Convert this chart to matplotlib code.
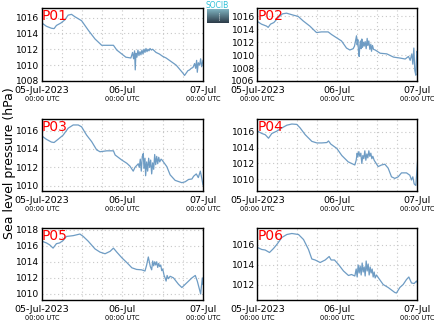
import numpy as np
import matplotlib
matplotlib.use("Agg")
import matplotlib.pyplot as plt
from matplotlib.transforms import blended_transform_factory
from matplotlib.colors import LinearSegmentedColormap

# hours since 05-Jul-2023 00:00 UTC, sea level pressure (hPa)
p01_t = [0, 1.3, 2.8, 3.6, 4.3, 5.6, 6.8, 7.8, 8.8, 9.8, 11.8, 13.8, 15.8, 17.8, 19.3,
         21.3, 22.3, 23.8, 25.0, 26.5, 27.0, 27.3, 27.6, 27.8, 28.0, 28.3, 28.6, 28.9,
         29.2, 29.5, 29.8, 30.1, 30.4, 30.7, 31.0, 31.3, 31.6, 31.9, 32.2, 32.6, 33.0,
         34, 35, 36, 37, 38, 39, 40, 41, 42, 42.5, 43, 43.5, 44, 44.5, 45, 45.5, 45.8,
         46.1, 46.3, 46.6, 47, 47.3, 47.6, 48]
p01_p = [1015.3, 1014.9, 1014.65, 1014.6, 1015.0, 1015.3, 1015.7, 1016.3, 1016.4, 1016.1,
         1015.6, 1014.4, 1013.3, 1012.5, 1012.5, 1012.5, 1011.9, 1011.4, 1011.0, 1010.9,
         1011.6, 1010.8, 1011.8, 1009.4, 1011.5, 1011.0, 1011.9, 1011.2, 1011.7, 1011.3,
         1011.9, 1011.4, 1012.0, 1011.6, 1012.1, 1011.7, 1012.0, 1011.8, 1012.1, 1011.9,
         1012.0, 1011.6, 1011.4, 1011.1, 1010.9, 1010.6, 1010.3, 1010.0, 1009.5, 1009.0,
         1008.7, 1009.0, 1009.3, 1009.4, 1009.6, 1009.7, 1010.2, 1009.6, 1010.6, 1009.1,
         1010.3, 1010.0, 1010.8, 1009.8, 1010.6]

p02_t = [0, 1.2, 2.7, 3.2, 3.9, 4.9, 6.2, 7.5, 8.7, 10.7, 12.2, 13.7, 15.7, 17.7, 19.2,
         21.2, 22.2, 23.7, 25.2, 26.7, 27.7, 28.7, 29.1, 29.4, 29.7, 29.9, 30.1, 30.3,
         30.5, 30.7, 30.9, 31.1, 31.3, 31.5, 31.8, 32.0, 32.3, 32.6, 32.9, 33.1, 33.4,
         33.7, 34.0, 34.2, 34.5, 34.8, 35.3, 36.8, 38.8, 40.8, 42.8, 44.3, 45.3, 45.8,
         46.3, 46.6, 46.9, 47.2, 47.5, 47.8, 48]
p02_p = [1015.2, 1014.8, 1014.5, 1014.3, 1014.8, 1015.05, 1015.8, 1016.4, 1016.5, 1016.2,
         1016.0, 1015.3, 1014.5, 1013.5, 1013.6, 1013.6, 1013.2, 1012.7, 1012.2, 1011.1,
         1010.8, 1011.0, 1011.4, 1012.2, 1013.0, 1011.6, 1012.4, 1010.6, 1009.8, 1011.5,
         1012.2, 1011.0, 1012.5, 1011.2, 1012.0, 1011.4, 1012.1, 1011.0, 1012.6, 1011.5,
         1012.2, 1010.9, 1011.7, 1010.6, 1011.5, 1010.9, 1010.8, 1010.3, 1010.2, 1009.7,
         1009.55, 1009.4, 1009.8, 1009.2, 1010.2, 1008.6, 1011.1, 1007.6, 1006.9, 1010.6,
         1010.4]

p03_t = [0, 1.3, 2.8, 3.6, 4.8, 6.3, 7.8, 9.3, 10.8, 11.8, 13.3, 14.8, 16.3, 17.3, 19.3,
         21.3, 21.8, 23.8, 25.3, 26.2, 27.2, 27.7, 28.7, 29.0, 29.3, 29.6, 29.9, 30.2,
         30.4, 30.7, 30.9, 31.2, 31.5, 31.8, 32.1, 32.4, 32.7, 33.0, 33.3, 33.6, 33.9,
         34.2, 34.5, 34.8, 35.1, 35.5, 35.8, 37.2, 38.2, 39.7, 41.7, 42.7, 43.7, 44.7,
         45.2, 46.0, 46.6, 47.2, 47.6, 48]
p03_p = [1015.4, 1015.05, 1014.75, 1014.7, 1015.05, 1015.5, 1016.25, 1016.6, 1016.6,
         1016.4, 1015.5, 1014.8, 1013.9, 1013.7, 1013.8, 1013.8, 1013.35, 1012.8, 1012.45,
         1012.15, 1011.6, 1012.0, 1012.4, 1012.0, 1012.9, 1011.6, 1013.2, 1013.5, 1011.9,
         1013.0, 1011.1, 1012.6, 1011.6, 1013.0, 1012.0, 1012.8, 1011.3, 1012.5, 1011.8,
         1013.4, 1012.3, 1013.2, 1012.4, 1013.1, 1012.6, 1012.9, 1012.8, 1012.1, 1011.2,
         1010.6, 1010.35, 1010.45, 1010.7, 1010.75, 1011.05, 1011.3, 1010.9, 1011.6,
         1010.9, 1010.1]

p04_t = [0, 1.3, 2.3, 3.3, 4.3, 5.8, 7.3, 8.8, 10.3, 11.8, 12.8, 14.3, 16.3, 17.8, 19.3,
         20.8, 21.3, 22.0, 23.8, 25.3, 27.2, 28.2, 29.2, 29.6, 29.9, 30.1, 30.4, 30.7,
         31.0, 31.3, 31.6, 31.9, 32.2, 32.5, 32.8, 33.1, 33.4, 33.7, 34.0, 34.3, 34.6,
         35.0, 35.3, 36.2, 37.2, 38.2, 39.2, 40.2, 41.2, 42.2, 43.2, 44.7, 45.7, 46.2,
         46.6, 47.0, 47.5, 48]
p04_p = [1016.1, 1015.8, 1015.65, 1015.2, 1015.8, 1016.1, 1016.5, 1016.85, 1017.0, 1016.95,
         1016.5, 1015.65, 1014.8, 1014.6, 1014.6, 1014.65, 1014.85, 1014.45, 1013.9,
         1013.0, 1012.2, 1012.0, 1011.8, 1012.4, 1013.3, 1012.8, 1013.5, 1012.9, 1013.3,
         1012.0, 1013.0, 1012.6, 1013.6, 1012.4, 1013.2, 1012.7, 1013.6, 1012.9, 1013.3,
         1012.6, 1012.9, 1012.4, 1012.2, 1011.6, 1011.8, 1011.9, 1011.4, 1010.3, 1010.1,
         1010.3, 1010.8, 1010.8, 1010.5, 1009.9, 1010.3, 1009.4, 1009.2, 1012.2]

p05_t = [0, 1.3, 2.3, 3.3, 4.3, 5.3, 6.3, 7.3, 9.3, 11.3, 12.3, 13.8, 15.8, 17.3, 18.8,
         20.3, 21.3, 22.3, 23.8, 25.3, 26.8, 28.2, 29.7, 30.7, 31.2, 31.7, 32.0, 32.3,
         32.7, 33.0, 33.3, 33.6, 33.9, 34.2, 34.5, 34.8, 35.1, 35.4, 35.7, 36.0, 36.4,
         36.7, 37.0, 37.3, 37.7, 38.2, 39.2, 40.7, 41.7, 43.2, 44.7, 45.7, 46.3, 47.3,
         47.8, 48]
p05_p = [1016.55, 1016.35, 1016.1, 1015.7, 1016.25, 1016.35, 1016.65, 1017.15, 1017.25,
         1017.45, 1017.15, 1016.55, 1015.6, 1015.2, 1015.0, 1015.3, 1015.7, 1015.2, 1014.5,
         1013.9, 1013.25, 1013.05, 1013.0, 1012.85, 1013.6, 1014.6, 1014.0, 1013.4, 1013.0,
         1014.1, 1013.5, 1014.0, 1013.6, 1014.0, 1013.3, 1013.8, 1013.4, 1013.6, 1012.9,
         1013.1, 1012.3, 1012.0, 1011.6, 1012.3, 1011.9, 1012.2, 1012.0, 1011.2, 1010.8,
         1011.4, 1012.0, 1012.3, 1011.6, 1010.0, 1012.0, 1011.2]

p06_t = [0, 1.3, 2.3, 3.6, 4.8, 5.8, 7.3, 8.8, 10.3, 12.3, 13.8, 15.3, 16.3, 17.3, 18.8,
         20.3, 21.5, 22.1, 23.1, 24.3, 25.8, 27.3, 28.2, 29.2, 29.6, 29.9, 30.2, 30.5,
         30.8, 31.1, 31.4, 31.7, 32.0, 32.3, 32.6, 32.9, 33.2, 33.5, 33.8, 34.1, 34.4,
         34.7, 35.0, 35.3, 35.7, 36.2, 37.7, 39.2, 41.2, 41.7, 42.7, 43.7, 44.7, 45.4,
         46.2, 47.0, 47.7, 48]
p06_p = [1015.75, 1015.55, 1015.5, 1015.25, 1015.65, 1016.05, 1016.75, 1017.05, 1017.15,
         1017.05, 1016.55, 1015.55, 1014.6, 1014.5, 1014.25, 1014.5, 1014.85, 1014.5,
         1014.5, 1014.05, 1013.4, 1012.95, 1013.05, 1012.9, 1013.6, 1012.8, 1014.0, 1013.2,
         1013.9, 1013.0, 1014.2, 1013.3, 1013.8, 1012.9, 1014.4, 1013.4, 1014.1, 1013.0,
         1013.8, 1013.2, 1013.6, 1012.8, 1013.3, 1012.7, 1013.0, 1012.75, 1012.05, 1011.75,
         1011.25, 1011.2, 1011.75, 1012.05, 1012.55, 1012.8, 1012.2, 1012.15, 1012.4, 1012.2]

stations = ["P01", "P02", "P03", "P04", "P05", "P06"]
series = [(p01_t, p01_p), (p02_t, p02_p), (p03_t, p03_p),
          (p04_t, p04_p), (p05_t, p05_p), (p06_t, p06_p)]
ylims = [(1008, 1017.2), (1006, 1017.3), (1009.45, 1017.3),
         (1008.5, 1017.7), (1009.25, 1018.2), (1010.5, 1017.7)]
xtick_hours = [0, 24, 48]
xtick_main = ["05-Jul-2023", "06-Jul", "07-Jul"]
xtick_sub = "00:00 UTC"

W, H = 435, 327
fig = plt.figure(figsize=(W / 100, H / 100), dpi=100)
fig.patch.set_facecolor("white")

# axes boxes in pixels: (left, right) per column, (top, bottom) per row
cols = [(42, 203), (257.5, 417.5)]
rows = [(8, 81), (118.5, 191), (228, 300)]

line_color = "#6e9cc4"

for i, (name, (t, p), yl) in enumerate(zip(stations, series, ylims)):
    x0, x1 = cols[i % 2]
    y0, y1 = rows[i // 2]
    ax = fig.add_axes([x0 / W, 1 - y1 / H, (x1 - x0) / W, (y1 - y0) / H])
    ax.plot(t, p, color=line_color, lw=0.9)
    ax.set_xlim(0, 48)
    ax.set_ylim(*yl)
    ax.set_xticks(np.arange(0, 49, 6))
    ax.set_xticklabels([])
    lo = int(np.ceil(yl[0] / 2.0) * 2)
    ax.set_yticks(np.arange(lo, yl[1] + 0.01, 2))
    ax.tick_params(length=0, labelsize=6.6, pad=2, colors="black")
    ax.grid(True, color="#c8c8c8", linestyle=(0, (1, 2.5)), linewidth=0.8)
    for s in ax.spines.values():
        s.set_linewidth(1.0)
        s.set_color("black")
    trans = blended_transform_factory(ax.transData, ax.transAxes)
    for h, lab in zip(xtick_hours, xtick_main):
        ax.text(h, -0.07, lab, transform=trans, ha="center", va="top", fontsize=6.8)
        ax.text(h, -0.21, xtick_sub, transform=trans, ha="center", va="top", fontsize=4.8)
    ax.text(0.0, 0.98, name, transform=ax.transAxes, ha="left", va="top",
            fontsize=10, color="red")

fig.text(10 / W, 0.5, "Sea level pressure (hPa)", rotation=90, ha="center",
         va="center", fontsize=9)

# small logo
lax = fig.add_axes([207 / W, 1 - 23 / H, 21 / W, 14 / H])
grad = np.linspace(0, 1, 50).reshape(-1, 1)
lcmap = LinearSegmentedColormap.from_list("logo", ["#7fb2c0", "#2c3b48"])
lax.imshow(grad, aspect="auto", cmap=lcmap, extent=[0, 1, 0, 1])
lax.plot([0.55, 0.55], [0.2, 0.75], color="white", lw=0.6, ls=(0, (1, 1.5)))
lax.set_axis_off()
fig.text(217.5 / W, 1 - 6 / H, "SOCIB", ha="center", va="center", fontsize=5.5,
         color="#2fc0d8")

fig.savefig("out.png", dpi=100)
